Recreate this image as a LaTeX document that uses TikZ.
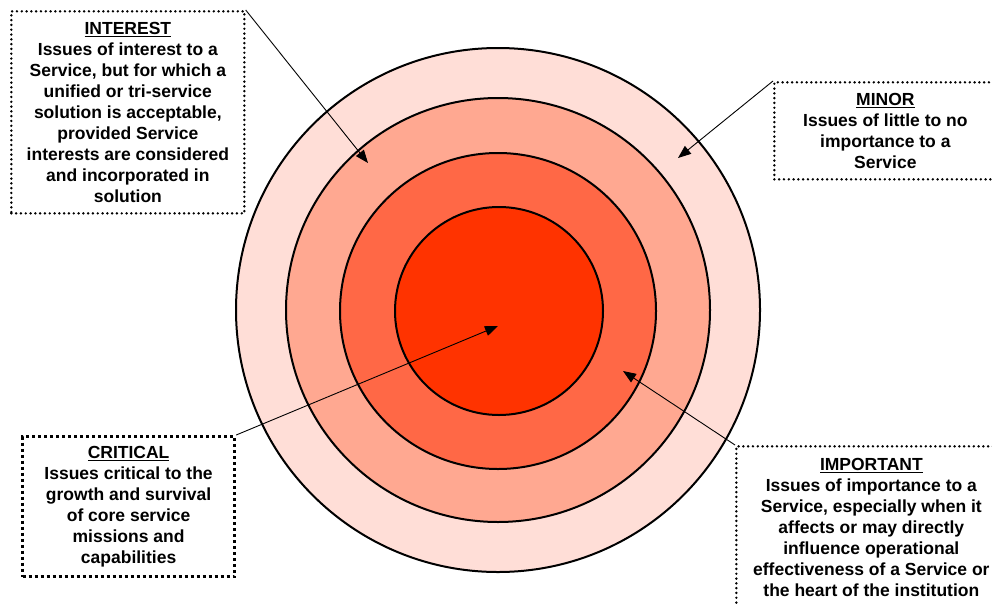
\documentclass[tikz,border=0pt]{standalone}
\usepackage{fontspec}
\setmainfont{Liberation Sans}
\usetikzlibrary{arrows.meta}
\definecolor{ringminor}{HTML}{FFDED7}
\definecolor{ringinterest}{HTML}{FFA891}
\definecolor{ringimportant}{HTML}{FF6846}
\definecolor{ringcritical}{HTML}{FF3300}

\begin{document}
\begin{tikzpicture}[x=1pt,y=-1pt,
    ring/.style={circle, draw, line width=2pt, inner sep=0pt},
    note/.style={rectangle, draw, line width=2.7pt, dash pattern=on 0pt off 4.8pt, line cap=round,
        align=center, inner sep=0pt, font=\fontsize{17.5}{21}\selectfont\bfseries},
    keynote/.style={note, line width=3.2pt, dash pattern=on 3pt off 3pt, line cap=butt},
    pointer/.style={-{Triangle[length=13pt,width=10pt]}, line width=0.9pt}]
        \clip (0,0) rectangle (992,605);
        % target rings, outside in
        \node[ring, fill=ringminor, minimum size=524pt] (outerring) at (498,310) {};
        \node[ring, fill=ringinterest, minimum size=424pt] (midring) at (498,310) {};
        \node[ring, fill=ringimportant, minimum size=316pt] (innerring) at (498,311) {};
        \node[ring, fill=ringcritical, minimum size=208pt] (corering) at (499,311) {};
        % labels
        \node[note, minimum width=233pt, minimum height=202pt, anchor=north west] (interest) at (10,10)
        {\underline{INTEREST}\\Issues of interest to a\\Service, but for which a\\unified or tri-service\\solution is acceptable,\\provided Service\\interests are considered\\and incorporated in\\solution};
        \node[note, minimum width=222pt, minimum height=97pt, anchor=north west] (minor) at (773,81)
        {\underline{MINOR}\\Issues of little to no\\importance to a\\Service};
        \node[keynote, minimum width=212pt, minimum height=140pt, anchor=north west] (critical) at (21,435)
        {\underline{CRITICAL}\\Issues critical to the\\growth and survival\\of core service\\missions and\\capabilities};
        \node[note, minimum width=270pt, minimum height=163pt, anchor=north west] (important) at (735,445)
        {\underline{IMPORTANT}\\Issues of importance to a\\Service, especially when it\\affects or may directly\\influence operational\\effectiveness of a Service or\\the heart of the institution};
        % arrows into the rings
        \coordinate (interestpt) at (368,163);
        \coordinate (minorpt) at (678,158);
        \coordinate (criticalpt) at (498,326);
        \coordinate (importantpt) at (623,371);
        \draw[pointer] (interest.north east) -- (interestpt);
        \draw[pointer] (minor.north west) -- (minorpt);
        \draw[pointer] (critical.north east) -- (criticalpt);
        \draw[pointer] (important.north west) -- (importantpt);
\end{tikzpicture}
\end{document}
